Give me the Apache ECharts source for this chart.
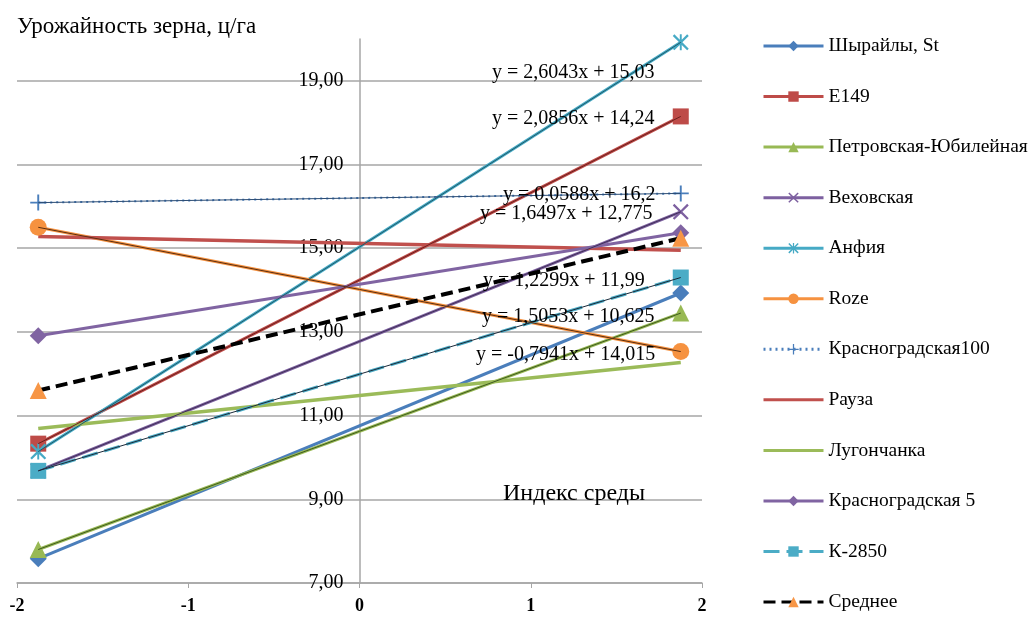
<!DOCTYPE html>
<html>
<head>
<meta charset="utf-8">
<script src="https://cdn.jsdelivr.net/npm/echarts@6/dist/echarts.min.js"></script>
<style>
html,body{margin:0;padding:0;background:#fff;}
#chart{width:1036px;height:617px;}
</style>
</head>
<body>
<div id="chart"></div>
<script>
// ---- Data ----
const envIndex = [-1.876, 1.876];
const seriesNames = ['Шырайлы, St', 'E149', 'Петровская-Юбилейная', 'Веховская', 'Анфия', 'Roze',
  'Красноградская100', 'Рауза', 'Лугончанка', 'Красноградская 5', 'К-2850', 'Среднее'];
const shyraily     = [7.58, 13.93];
const e149         = [10.33, 18.15];
const petrovskaya  = [7.80, 13.45];
const vekhovskaya  = [9.68, 15.87];
const anfiya       = [10.14, 19.92];
const roze         = [15.50, 12.53];
const krasnogr100  = [16.09, 16.31];
const rauza        = [15.28, 14.95];
const lugonchanka  = [10.69, 12.27];
const krasnogr5    = [12.91, 15.37];
const k2850        = [9.68, 14.30];
const average      = [11.60, 15.24];
const xTicks = [-2, -1, 0, 1, 2];
const yTicks = [7, 9, 11, 13, 15, 17, 19];
const yMax = 20;
const equations = [
  'y = 2,6043x + 15,03', 'y = 2,0856x + 14,24', 'y = 0,0588x + 16,2', 'y = 1,6497x + 12,775',
  'y = 1,2299x + 11,99', 'y = 1,5053x + 10,625', 'y = -0,7941x + 14,015'
];

const pts = v => envIndex.map((x, i) => [x, v[i]]);
const FONT = '"Liberation Serif", "Times New Roman", serif';

const symX = 'path://M1,0 L5,4 L9,0 L10,1 L6,5 L10,9 L9,10 L5,6 L1,10 L0,9 L4,5 L0,1 Z';
const symAst = 'path://M1,0 L5,4 L9,0 L10,1 L6,5 L10,9 L9,10 L5,6 L1,10 L0,9 L4,5 L0,1 Z M4.4,0 L5.6,0 L5.6,10 L4.4,10 Z';
const symPlus = 'path://M4.4,0 L5.6,0 L5.6,4.4 L10,4.4 L10,5.6 L5.6,5.6 L5.6,10 L4.4,10 L4.4,5.6 L0,5.6 L0,4.4 L4.4,4.4 Z';

function mk(name, data, color, symbol, size, opts) {
  opts = opts || {};
  return {
    name: name, type: 'line', data: pts(data),
    symbol: symbol, symbolSize: size, showSymbol: symbol !== 'none',
    lineStyle: { color: opts.lineColor || color, width: opts.width || 3, type: opts.dash || 'solid' },
    itemStyle: { color: opts.symColor || color },
    animation: false, z: opts.z || 2
  };
}
function trend(data, color) {
  return {
    name: 'trend', type: 'line', data: pts(data), symbol: 'none',
    lineStyle: { color: color, width: 1 }, silent: true, animation: false, z: 3
  };
}

const series = [
  mk(seriesNames[0], shyraily, '#4A7EBB', 'diamond', 17),
  mk(seriesNames[1], e149, '#BE4B48', 'rect', 16),
  mk(seriesNames[2], petrovskaya, '#98B954', 'triangle', 17),
  mk(seriesNames[3], vekhovskaya, '#7D60A0', symX, 16),
  mk(seriesNames[4], anfiya, '#46AAC5', symAst, 16),
  mk(seriesNames[5], roze, '#F69240', 'circle', 17),
  mk(seriesNames[6], krasnogr100, '#4A7EBB', symPlus, 16, { dash: [2, 4], width: 2 }),
  mk(seriesNames[7], rauza, '#C0504D', 'none', 0, { width: 3.5 }),
  mk(seriesNames[8], lugonchanka, '#9BBB59', 'none', 0, { width: 3.5 }),
  mk(seriesNames[9], krasnogr5, '#8064A2', 'diamond', 17),
  mk(seriesNames[10], k2850, '#4BACC6', 'rect', 16, { dash: [16, 7] }),
  mk(seriesNames[11], average, '#000000', 'triangle', 17, { dash: [12, 6], width: 4, symColor: '#F79646', z: 4 }),
  trend(anfiya, '#1F5A6A'),
  trend(e149, '#6B1F1D'),
  trend(krasnogr100, '#2C4D75'),
  trend(vekhovskaya, '#3F2F55'),
  trend(k2850, '#1A2A3A'),
  trend(petrovskaya, '#3E5A1E'),
  trend(roze, '#5A2E10')
];

const eqPos = [[492, 72], [492, 118], [503, 194], [480, 213], [483, 280], [482, 316], [476, 354]];
const graphics = equations.map((t, i) => ({
  type: 'text', left: eqPos[i][0], top: eqPos[i][1] - 9, z: 100,
  style: { text: t, font: '20px ' + FONT, fill: '#000' }
}));
graphics.push({ type: 'text', left: 503, top: 482, z: 100,
  style: { text: 'Индекс среды', font: '24px ' + FONT, fill: '#000' } });

// layout
const gridLeft = 17, gridRight = 702, gridTop = 39, gridBottom = 583;
const yAxisOffset = -(0 - xTicks[0]) / (xTicks[xTicks.length - 1] - xTicks[0]) * (gridRight - gridLeft);

const legendData = seriesNames.map(n => (n === 'Рауза' || n === 'Лугончанка')
  ? { name: n, itemStyle: { opacity: 0 } } : { name: n });

const chart = echarts.init(document.getElementById('chart'));
chart.setOption({
  backgroundColor: '#fff',
  animation: false,
  title: {
    text: 'Урожайность зерна, ц/га', left: 12, top: 10,
    textStyle: { fontFamily: FONT, fontSize: 23, fontWeight: 'normal', color: '#000' }
  },
  legend: {
    data: legendData, orient: 'vertical', left: 762, top: 36, padding: 0,
    itemWidth: 60, itemHeight: 13, itemGap: 30.55,
    lineStyle: { width: 3 },
    textStyle: { fontFamily: FONT, fontSize: 19.5, color: '#000' }
  },
  grid: { left: gridLeft, right: 1036 - gridRight, top: gridTop, bottom: 617 - gridBottom,
    containLabel: false, outerBoundsMode: 'none' },
  xAxis: {
    type: 'value', min: xTicks[0], max: xTicks[xTicks.length - 1], interval: 1,
    axisLine: { onZero: false, lineStyle: { color: '#A6A6A6', width: 1.5 } },
    axisTick: { show: true, length: 5, lineStyle: { color: '#A6A6A6' } },
    splitLine: { show: false },
    axisLabel: { margin: 14, fontFamily: FONT, fontSize: 18, color: '#000', fontWeight: 'bold' }
  },
  yAxis: {
    type: 'value', min: yTicks[0], max: yMax, interval: 2, offset: yAxisOffset,
    axisLine: { show: true, onZero: false, lineStyle: { color: '#A6A6A6', width: 1.5 } },
    axisTick: { show: false },
    splitLine: { show: true, showMaxLine: false, lineStyle: { color: '#A6A6A6', width: 1.5 } },
    axisLabel: { showMaxLabel: false, margin: 16, fontFamily: FONT, fontSize: 20, color: '#000',
      formatter: v => v.toFixed(2).replace('.', ',') }
  },
  graphic: graphics,
  series: series
});
</script>
</body>
</html>
